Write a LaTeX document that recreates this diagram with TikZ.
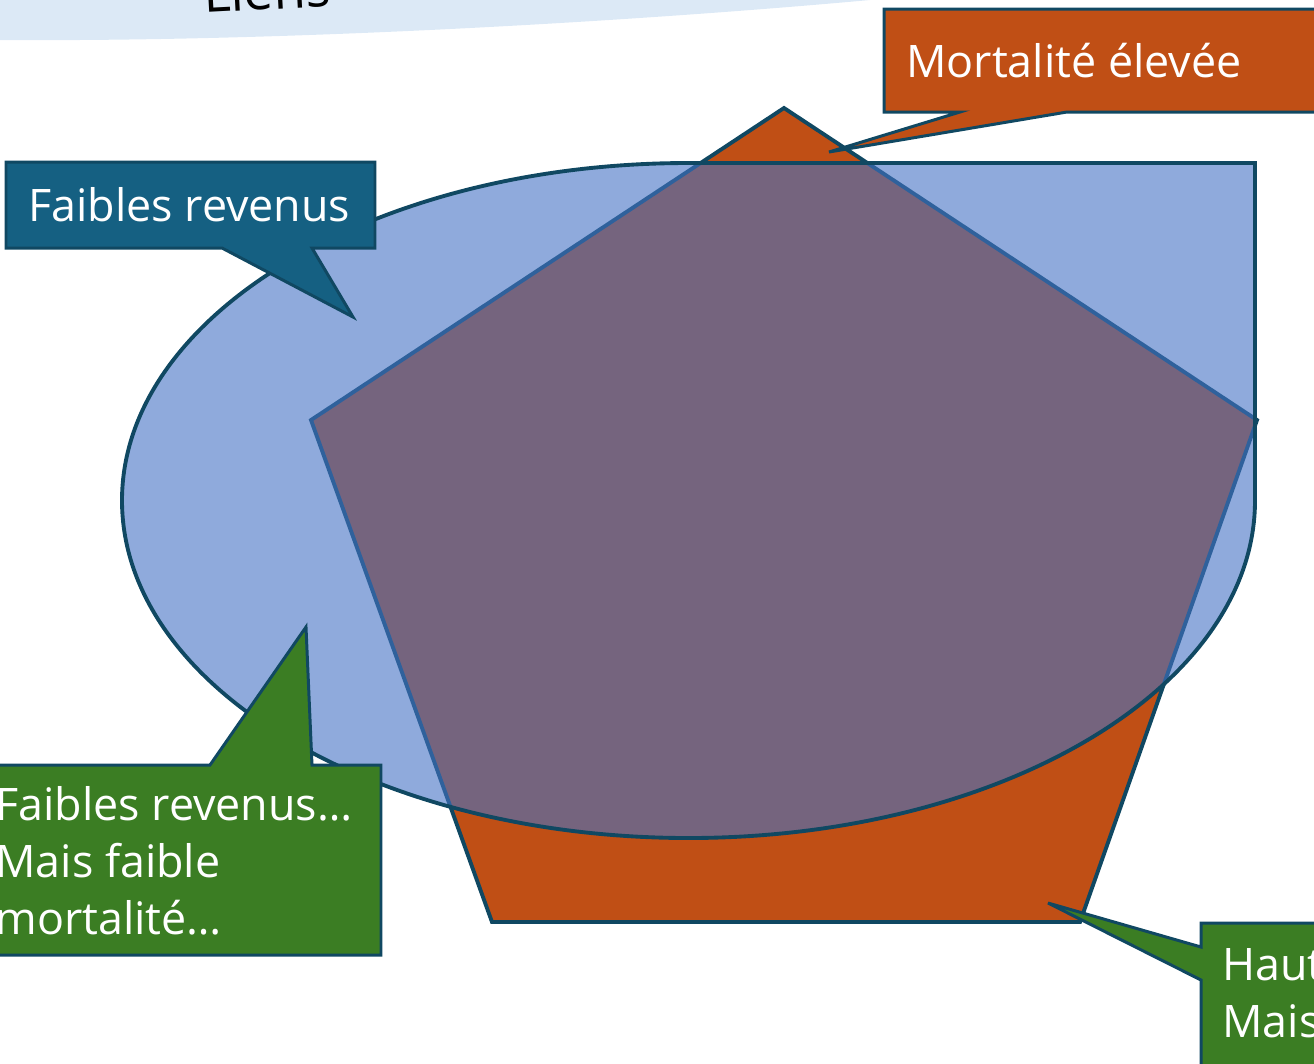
\documentclass[tikz,border=0pt]{standalone}
\usepackage{fontspec}
\setmainfont{Open Sans}
\usetikzlibrary{positioning}

\definecolor{bandblue}{HTML}{DCE9F6}
\definecolor{darkline}{HTML}{104862}
\definecolor{revorange}{HTML}{C04F15}
\definecolor{zoneblue}{HTML}{4472C4}
\definecolor{calloutblue}{HTML}{156082}
\definecolor{calloutgreen}{HTML}{3B7D23}

\tikzset{
    shapeline/.style={draw=darkline, line width=2.2pt, line join=miter},
    callout/.style={draw=darkline, line width=1.7pt, line join=miter},
    calltext/.style={text=white, inner sep=0pt, font=\fontsize{25.5}{32.5}\selectfont, align=left}
}

\begin{document}
\begin{tikzpicture}[x=0.02cm, y=-0.02cm]
    \useasboundingbox (0,0) rectangle (1314,1063);
    \clip (0,0) rectangle (1314,1063);

    % Title band (cut off at the top)
    \fill[bandblue] (0,-60) -- (900,-60) -- (870,0) .. controls (650,20) and (300,42) .. (0,40) -- cycle;
    \node[anchor=base west, rotate=3, inner sep=0pt, font=\fontsize{30}{36}\selectfont] (title) at (204,13) {Liens};

    % Pentagon
    \filldraw[shapeline, fill=revorange] (784,108) -- (1257,420) -- (1080,922) -- (492,922) -- (311,420) -- cycle;

    % Rounded zone (ellipse with a square corner)
    \draw[shapeline, fill=zoneblue, fill opacity=0.6]
        (1255,500.5) arc[start angle=0, end angle=270, x radius=566.5, y radius=337.5]
        -- (1255,163) -- cycle;

    % Callouts
    \filldraw[callout, fill=calloutblue] (6,162) -- (375,162) -- (375,248) -- (312,248)
        -- (353,317) -- (222,248) -- (6,248) -- cycle;
    \node[calltext, anchor=base west] (revenus) at (28,221) {Faibles revenus};

    \filldraw[callout, fill=revorange] (884,9) -- (1340,9) -- (1340,112) -- (1067,112)
        -- (829,152) -- (960,112) -- (884,112) -- cycle;
    \node[calltext, anchor=base west] (mortalite) at (906,77) {Mortalité élevée};

    \filldraw[callout, fill=calloutgreen] (-10,765) -- (210,765) -- (306,627) -- (312,765)
        -- (381,765) -- (381,955) -- (-10,955) -- cycle;
    \node[calltext, anchor=north west] (faibles) at (-5,786) {Faibles revenus…\\Mais faible\\mortalité…};

    \filldraw[callout, fill=calloutgreen] (1201,923) -- (1340,923) -- (1340,1080) -- (1201,1080)
        -- (1201,980) -- (1048,903) -- (1201,947) -- cycle;
    \node[calltext, anchor=north west] (hauts) at (1222,948) {Haut\\Mais};
\end{tikzpicture}
\end{document}
